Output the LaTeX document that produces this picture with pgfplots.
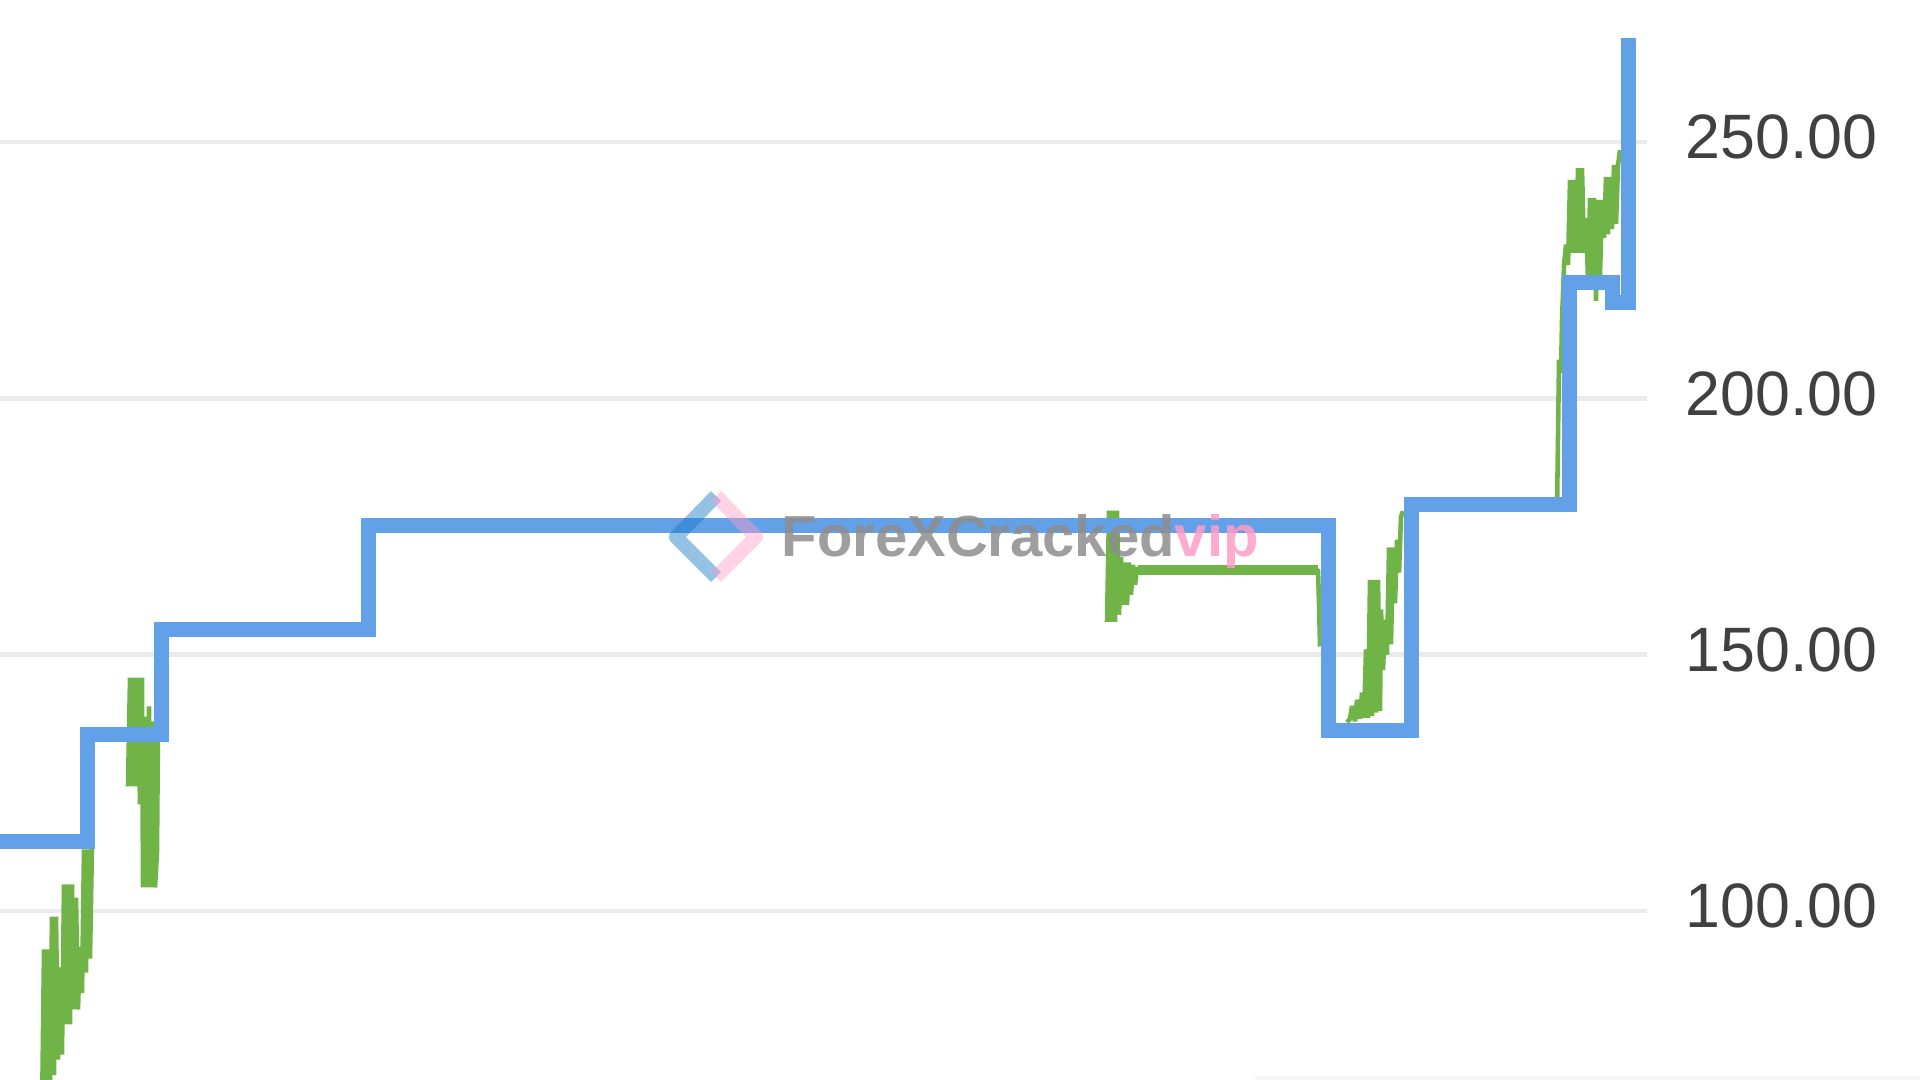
\documentclass[border=0pt]{standalone}
\usepackage{pgfplots}
\pgfplotsset{compat=1.18}
\usepackage{fontspec}
\setmainfont{Liberation Sans}
\definecolor{bl}{HTML}{62A0E8}
\definecolor{gr}{HTML}{70B347}
\definecolor{gridc}{HTML}{EBEBEB}
\definecolor{lab}{HTML}{404040}
\definecolor{wmgray}{HTML}{808080}
\definecolor{wmpink}{HTML}{FF9CC8}
\begin{document}
\begin{tikzpicture}
\useasboundingbox (0,0) rectangle (19.2,10.8);
\fill[gray!7] (12.55,0) rectangle (19.2,0.04);
\begin{axis}[
  at={(0,0)}, anchor=south west,
  width=16.47cm, height=10.8cm, scale only axis,
  xmin=0, xmax=1647, ymin=67.04, ymax=277.7,
  axis line style={draw=none},
  xtick=\empty,
  ytick={100,150,200,250},
  ymajorgrids,
  grid style={gridc, line width=1.4pt},
  major tick length=0pt,
  scaled ticks=false,
  yticklabel pos=right,
  yticklabel style={/pgf/number format/fixed, /pgf/number format/fixed zerofill,
    /pgf/number format/precision=2, /pgf/number format/assume math mode=true,
    anchor=west, xshift=7.5pt, yshift=1.4pt, font=\fontsize{17.85}{20}\selectfont, text=lab},
  clip=true,
]
% green equity segments
\addplot[gr, line width=1.3pt, line join=bevel] coordinates {
(42,60)(44,92.5)(46,62)(48,92.5)(50,66)(52,98.9)(54,68)(56,98.9)(58,71)(60,89)(62,72)
(64,105.2)(66,77.9)(68,105.2)(70,77.9)(72,105.2)(74,80.8)(76,102.6)(78,80.8)(80,93)
(82,84)(84,112)(86,88)(88,112)(90,90.7)(92,113)};
\addplot[gr, line width=1.3pt, line join=bevel] coordinates {
(128,124.3)(130,145.5)(132,124.3)(134,145.5)(136,124.3)(138,145.5)(140,120.8)(142,145.5)
(143,104.6)(145,137.9)(147,104.6)(149,139.9)(151,104.6)(153,137)(155,104.6)(157,111.4)
(158,136)(160,135)};
\addplot[gr, line width=1.3pt, line join=bevel] coordinates {
(1107,156.4)(1109,178.1)(1111,156.4)(1113,178.1)(1115,156.4)(1117,178.1)(1119,157.8)
(1121,169)(1123,159.7)(1125,168)(1127,159.7)(1129,168)(1131,161.7)(1133,167.5)
(1135,163.6)(1137,167)(1139,166.5)(1318,166.5)(1319,160)(1320,151.6)};
\addplot[gr, line width=0.1cm] coordinates {(1138,166.5)(1318,166.5)};
\addplot[gr, line width=1.3pt, line join=bevel] coordinates {
(1347,136.8)(1350,137.5)(1352,140)(1355,137)(1357,141.2)(1360,137.5)(1362,142.6)
(1364,137.7)(1366,151)(1368,137.7)(1370,164.6)(1372,138)(1374,164.6)(1376,138.7)
(1378,164.6)(1380,139)(1381,158.8)(1383,147)(1385,156.8)(1387,150)(1389,170.9)
(1391,152)(1393,170.9)(1395,160)(1397,172.4)(1399,166)(1401,176.9)(1403,178)};
\addplot[gr, line width=1.3pt, line join=bevel] coordinates {
(1557,178)(1559,207.5)(1561,205)(1562,215.3)(1564,226)(1566,230)(1568,226)
(1570,242.6)(1572,228.4)(1574,242.6)(1576,228.4)(1578,244.9)(1580,228.4)(1582,244.9)
(1584,228.4)(1586,235.2)(1588,223)(1590,239.1)(1592,222)(1594,239.1)(1596,219)
(1598,238.7)(1600,224)(1602,238.7)(1604,231.3)(1606,243.2)(1608,232)(1610,243.2)
(1612,233)(1614,245.5)(1616,234)(1618,245.5)(1620,248.4)};
% blue step line
\addplot[bl, line width=0.15cm] coordinates {
(0,113.5)(87.5,113.5)(87.5,134.5)(161,134.5)(161,155)(368.6,155)(368.6,175.2)
(1328,175.2)(1328,135.2)(1411,135.2)(1411,179.2)(1569.5,179.2)(1569.5,222.6)
(1612,222.6)(1612,218.6)(1628,218.6)(1628,270.3)};
\end{axis}
% watermark
\draw[line width=4pt, opacity=0.45, color=cyan!55!blue, line join=round] (7.16,5.84)--(6.76,5.43)--(7.16,5.03);
\draw[line width=4pt, opacity=0.45, color=wmpink, line join=round] (7.16,5.84)--(7.56,5.43)--(7.16,5.03);
\node[anchor=west, inner sep=0pt, opacity=0.85, font=\bfseries\fontsize{16.5}{18}\selectfont] at (7.81,5.38)
  {\textcolor{wmgray!110!black}{ForeXCracked}\textcolor{wmpink}{vip}};
\end{tikzpicture}
\end{document}
